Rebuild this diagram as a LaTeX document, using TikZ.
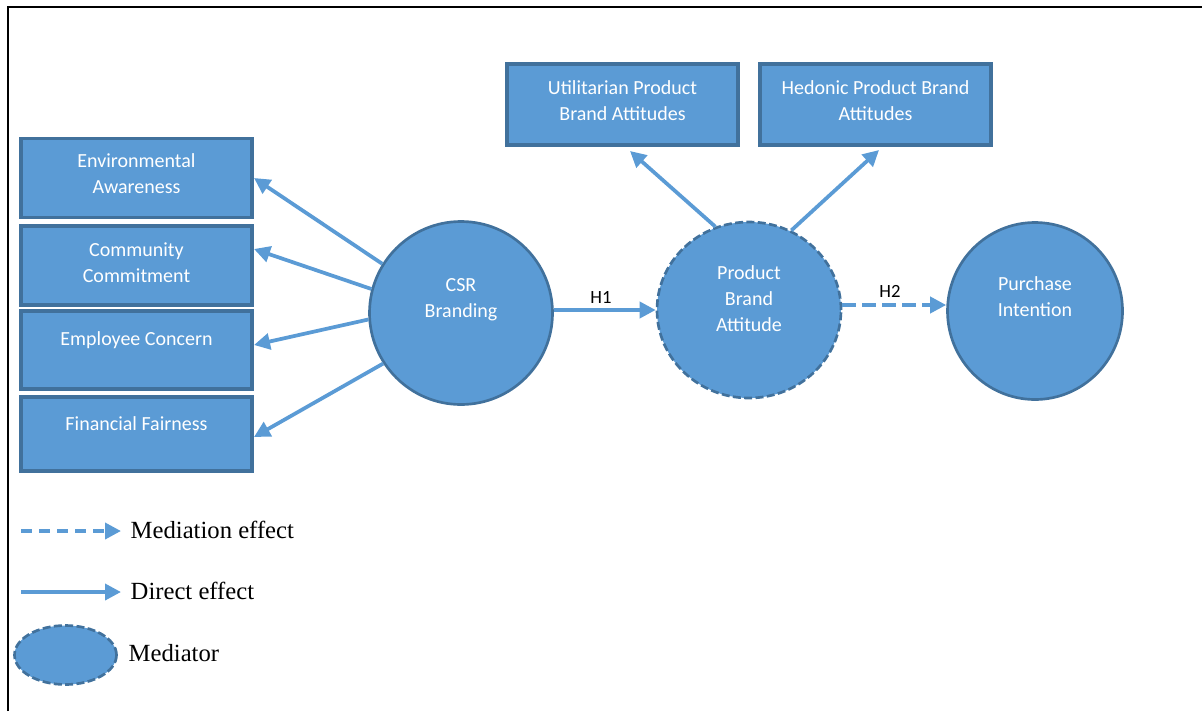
\documentclass[tikz,border=0pt]{standalone}
\usepackage{fontspec}
\setmainfont{Carlito}
\newfontfamily\legendfont{Liberation Serif}
\usetikzlibrary{arrows.meta,shapes.geometric}
\definecolor{boxfill}{HTML}{5B9BD5}
\definecolor{boxedge}{HTML}{41719C}
\definecolor{linkcol}{HTML}{5B9BD5}
\tikzset{
  factor/.style={draw=boxedge, line width=2.3pt, fill=boxfill,
    minimum width=231*0.75pt, minimum height=79*0.75pt, inner sep=0pt},
  construct/.style={ellipse, draw=boxedge, line width=2pt, fill=boxfill, inner sep=0pt},
  mediator/.style={construct, dash pattern=on 6pt off 2.5pt},
  caption/.style={text=white, align=center, inner sep=0pt,
    font=\fontsize{15}{19.5}\selectfont},
  link/.style={draw=linkcol, line width=2.8pt, -{Triangle[length=12pt,width=12pt]}},
  medlink/.style={link, dash pattern=on 10pt off 5pt},
  hyp/.style={font=\fontsize{14}{16}\selectfont, text=black},
  legendtext/.style={anchor=west, font=\legendfont\fontsize{18.5}{22}\selectfont, text=black}
}
\begin{document}
\begin{tikzpicture}[x=0.75pt,y=-0.75pt]
\useasboundingbox (0,0) rectangle (1202,711);
% frame lines
\draw[line width=2.2pt, black] (8,711) -- (8,7) -- (1202,7);

% dimension boxes
\node[factor] (env) at (136.5,178) {};
\node[caption] (env-t) at (136.5,174) {Environmental\\Awareness};
\node[factor] (com) at (136.5,265.5) {};
\node[caption] (com-t) at (136.5,263) {Community\\Commitment};
\node[factor, minimum height=78*0.75pt] (emp) at (136.5,350) {};
\node[caption] (emp-t) at (136.5,340) {Employee Concern};
\node[factor, minimum height=74*0.75pt] (fin) at (136.5,434) {};
\node[caption] (fin-t) at (136.5,424) {Financial Fairness};

% attitude boxes
\node[factor, minimum height=81*0.75pt] (util) at (622.5,104.5) {};
\node[caption] (util-t) at (622.5,101) {Utilitarian Product\\Brand Attitudes};
\node[factor, minimum height=81*0.75pt] (hed) at (875.5,104.5) {};
\node[caption] (hed-t) at (875.5,101) {Hedonic Product Brand\\Attitudes};

% constructs
\node[construct, minimum width=183*0.75pt, minimum height=183*0.75pt] (csr) at (461,313) {};
\node[caption] (csr-t) at (461,300) {CSR\\Branding};
\node[mediator, minimum width=184*0.75pt, minimum height=176*0.75pt] (pba) at (749,310) {};
\node[caption] (pba-t) at (749,298.5) {Product\\Brand\\Attitude};
\node[construct, minimum width=175*0.75pt, minimum height=177*0.75pt] (pi) at (1035,311) {};
\node[caption] (pi-t) at (1035,296.5) {Purchase\\Intention};

% effects of CSR branding
\draw[link] (csr.148) -- (254,178);
\draw[link] (csr.165) -- (254,249);
\draw[link] (csr.184) -- (254,345);
\draw[link] (csr.213) -- (254,437);

% hypotheses
\draw[link] (pba.west -| csr.east) -- (pba.west);
\node[hyp] (h1) at (601,297) {H1};
\coordinate (h2s) at ([yshift=3.75pt]pba.east);
\draw[medlink] (h2s) -- (pi.west |- h2s);
\node[hyp] (h2) at (890,291) {H2};

% attitude split
\draw[link] (pba.112) -- (630,151);
\draw[link] (pba.62) -- (879,150);

% legend
\coordinate (l1a) at (21,531);
\coordinate (l1b) at (121,531);
\coordinate (l2a) at (21,592);
\coordinate (l2b) at (121,592);
\draw[medlink, dash pattern=on 8.5pt off 5pt] (l1a) -- (l1b);
\node[legendtext] (t1) at (126,530) {Mediation effect};
\draw[link] (l2a) -- (l2b);
\node[legendtext] (t2) at (126,591) {Direct effect};
\node[mediator, minimum width=102*0.75pt, minimum height=59*0.75pt] (legmed) at (65.5,655) {};
\node[legendtext] (t3) at (124,653) {Mediator};
\end{tikzpicture}
\end{document}
